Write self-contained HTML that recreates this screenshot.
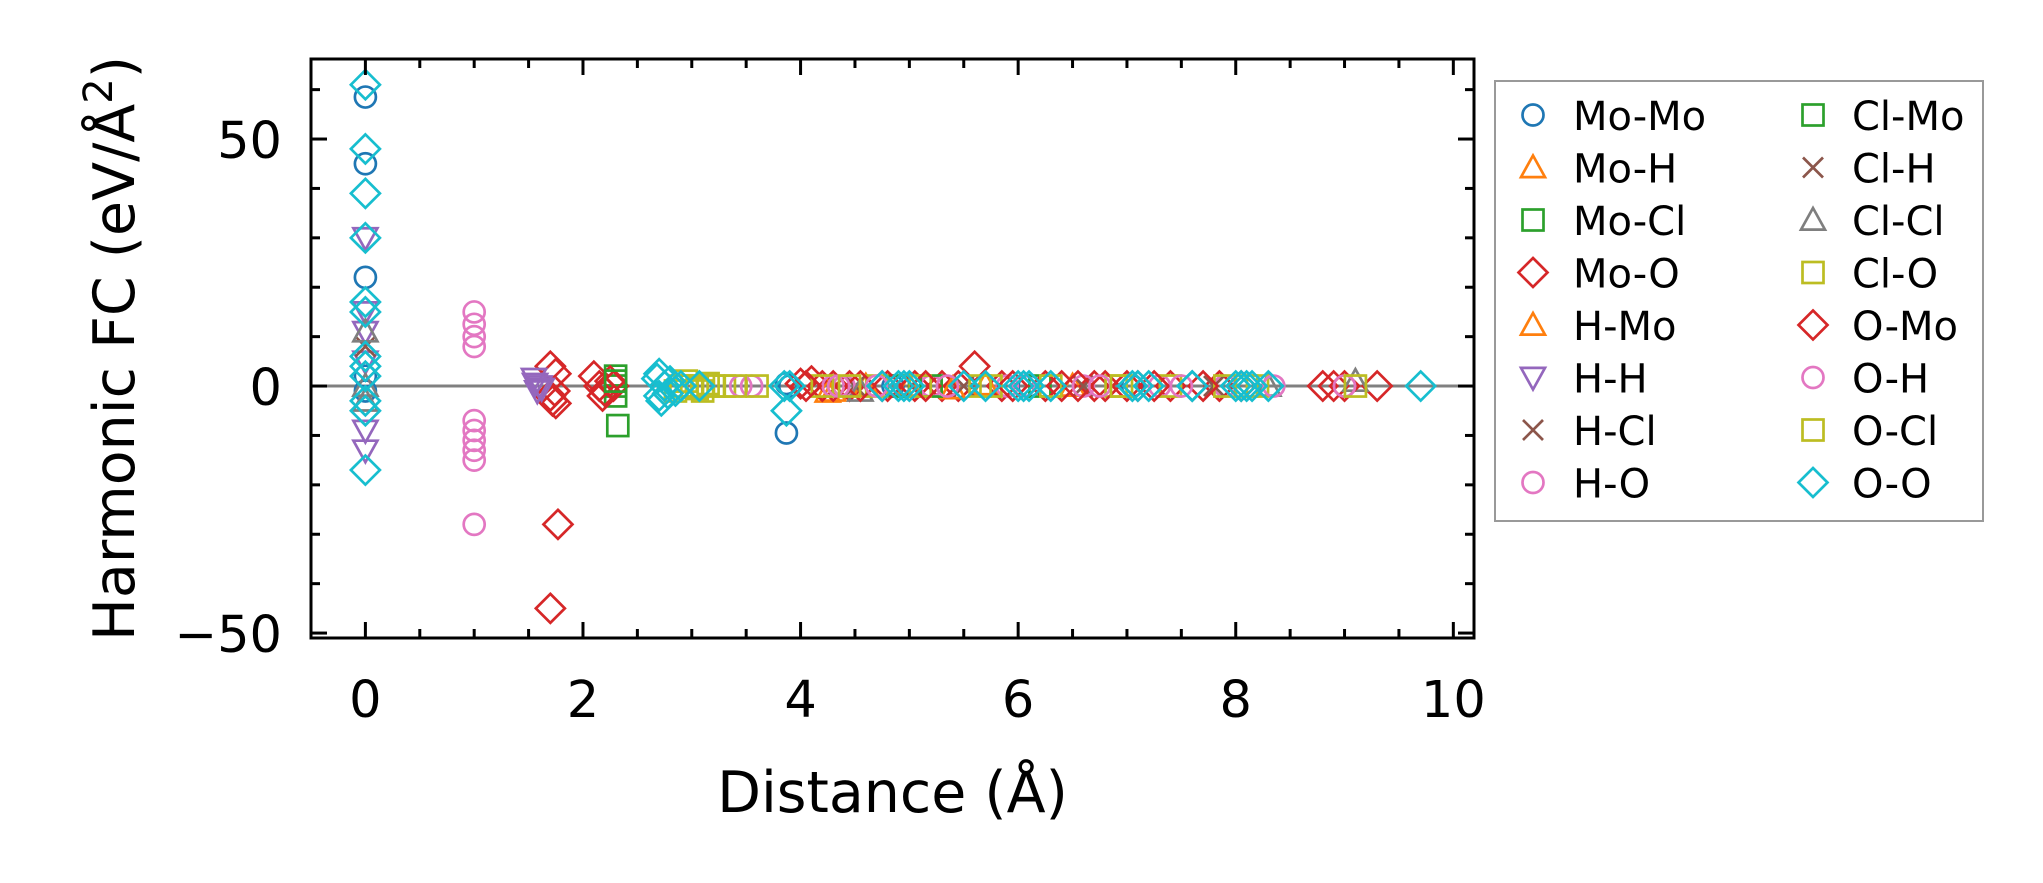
<!DOCTYPE html>
<html><head><meta charset="utf-8"><style>
html,body{margin:0;padding:0;background:#fff;width:2043px;height:883px;overflow:hidden}
svg text{font-family:"DejaVu Sans","Liberation Sans",sans-serif}
</style></head><body>
<svg id="chart" width="2043" height="883" xmlns="http://www.w3.org/2000/svg">
<g id="plot"></g>
<g id="axes"></g>
<g id="legend"></g>
</svg>
<script>
const xTicks=[0,2,4,6,8,10];
const yTicks=[-50,0,50];
const seriesNames=["Mo-Mo","Mo-H","Mo-Cl","Mo-O","H-Mo","H-H","H-Cl","H-O","Cl-Mo","Cl-H","Cl-Cl","Cl-O","O-Mo","O-H","O-Cl","O-O"];
const seriesColors=["#1f77b4","#ff7f0e","#2ca02c","#d62728","#ff7f0e","#9467bd","#8c564b","#e377c2","#2ca02c","#8c564b","#7f7f7f","#bcbd22","#d62728","#e377c2","#bcbd22","#17becf"];
const seriesMarkers=["o","^","s","D","^","v","x","o","s","x","^","s","D","o","s","D"];
const moMoX=[0,0,0,0,0,3.87,3.87,3.9,4.85,6.1,7.05];
const moMoY=[58.5,45,22,2,-1,-9.5,0.5,0,0,0,0];
const moHX=[4.3,5.0,5.7,6.5,4.25];
const moHY=[-1,0,0.3,0,-1.2];
const moClX=[2.3,2.3,2.3,4.9,6.2];
const moClY=[2,0,-2,0,0];
const moOX=[1.7,1.75,1.7,1.75,1.77,1.7,1.72,1.74,2.1,2.15,2.2,2.28,2.25,2.18,4.1,4.3,4.8,5.3,5.6,6.4,7.1,7.6,8.9,9.3,4.0,4.2,4.45,4.75,5.05,5.45,5.85,6.25,6.7,7.0,7.4,7.85];
const moOY=[4,2.5,-2,-3.5,-28,-45,-3,-1,2,0,-1,0,1,-2,1,0,0,0,4,0,0,0,0,0,0.5,0,0,0,0,0,0,0,0,0,0,0];
const hMoX=[4.6,5.4];
const hMoY=[0,-0.5];
const hHX=[0,0,0,0,0,0,1.55,1.6,1.58,1.56,1.62];
const hHY=[30,15,11,5,-9,-13,1.5,0,-1,0.5,-0.5];
const hClX=[0,4.5,6.6];
const hClY=[8,0,0];
const hOX=[1,1,1,1,1,1,1,1,1,1,3.55,4.4,5.9,7.3,4.3,5.2,6.6,7.9];
const hOY=[15,12.5,10,8,-7,-9,-11,-13,-15,-28,0,0,0,0,0,0,0,0];
const clMoX=[2.32,5.2,2.3];
const clMoY=[-8,0,1];
const clHX=[5.5,7.8];
const clHY=[0,0];
const clClX=[0,0,0,4.55,9.1,8.3];
const clClY=[11,0,-3,-1,1,0];
const clOX=[2.9,3.0,3.1,3.3,3.6,4.2,4.7,5.1,5.75,6.3,6.9,7.4,7.9,8.2,2.95,3.05,3.15,3.2,2.85];
const clOY=[0,0,-1,0,0,0,0,0,0,0,0,0,0,0,1,-0.5,0.5,0,-1];
const oMoX=[4.05,4.55,5.15,5.95,6.55,6.8,7.25,7.7,8.05,8.8,9.0];
const oMoY=[0,0,0,0,0,0,0,0,0,0,0];
const oHX=[3.45,4.35,4.7,5.35,6.05,6.75,7.5,8.35,9.0];
const oHY=[0,0,0,0,0,0,0,0,0];
const oClX=[3.05,3.4,4.45,5.65,6.95,8.1,9.1];
const oClY=[0,0,0,0,0,0,0];
const oOX=[0,0,0,0,0,0,0,0,0,0,0,0,2.7,2.7,2.75,2.8,2.85,3.07,2.72,2.78,2.68,2.9,3.85,3.87,3.9,4.9,5.0,5.5,5.7,6.05,6.1,6.3,7.05,7.2,7.6,8.0,8.05,8.15,8.3,9.7,4.75,4.95,6.0,7.1,7.6,8.1];
const oOY=[61,48,39,30,17,15,6,4,-3,-5,-17,2,2.5,-2,0,1,-1,0,-3,-1.5,1.5,0,0,-5,0,0,0,0,0,0,0,0,0,0,0,0,0,0,0,0,0,0,0,0,0,0];
const allX=[moMoX,moHX,moClX,moOX,hMoX,hHX,hClX,hOX,clMoX,clHX,clClX,clOX,oMoX,oHX,oClX,oOX];
const allY=[moMoY,moHY,moClY,moOY,hMoY,hHY,hClY,hOY,clMoY,clHY,clClY,clOY,oMoY,oHY,oClY,oOY];

const L=311,R=1474,T=59,B=638;
const xMin=-0.5,xMax=10.19,yMin=-51.0,yMax=66.2;
const sx=v=>L+(v-xMin)/(xMax-xMin)*(R-L);
const sy=v=>B-(v-yMin)/(yMax-yMin)*(B-T);
const NS="http://www.w3.org/2000/svg";
function mk(tag,attrs,parent){const e=document.createElementNS(NS,tag);for(const k in attrs)e.setAttribute(k,attrs[k]);parent.appendChild(e);return e;}

function marker(parent,type,cx,cy,color,s){
  const st={fill:"none",stroke:color,"stroke-width":2.7};
  let e;
  if(type==="o"){e=mk("circle",Object.assign({cx:cx,cy:cy,r:10.5*s},st),parent);}
  else if(type==="s"){e=mk("rect",Object.assign({x:cx-10.5*s,y:cy-10.5*s,width:21*s,height:21*s},st),parent);}
  else if(type==="D"){const r=14.5*s;e=mk("polygon",Object.assign({points:`${cx},${cy-r} ${cx+r},${cy} ${cx},${cy+r} ${cx-r},${cy}`},st),parent);}
  else if(type==="^"){const r=12*s;e=mk("polygon",Object.assign({points:`${cx},${cy-r} ${cx+r},${cy+r*0.8} ${cx-r},${cy+r*0.8}`},st),parent);}
  else if(type==="v"){const r=12*s;e=mk("polygon",Object.assign({points:`${cx},${cy+r} ${cx+r},${cy-r*0.8} ${cx-r},${cy-r*0.8}`},st),parent);}
  else {const r=10*s;e=mk("path",Object.assign({d:`M${cx-r},${cy-r}L${cx+r},${cy+r}M${cx+r},${cy-r}L${cx-r},${cy+r}`},st),parent);}
  return e;
}

const plot=document.getElementById("plot");
const zl=mk("line",{x1:L,x2:R,y1:sy(0),y2:sy(0),stroke:"#808080","stroke-width":3},plot);


seriesNames.forEach((n,i)=>{
  const g=mk("g",{},plot);
  
  
  allX[i].forEach((x,j)=>{
    const m=marker(g,seriesMarkers[i],sx(x),sy(allY[i][j]),seriesColors[i],1);
    
    
  });
});

const ax=document.getElementById("axes");
const frame=mk("rect",{x:L,y:T,width:R-L,height:B-T,fill:"none",stroke:"#000","stroke-width":3},ax);


for(let v=0;v<=10.01;v+=0.5){
  const x=sx(v);const maj=Math.abs(v/2-Math.round(v/2))<1e-6;const len=maj?16:9;
  mk("line",{x1:x,x2:x,y1:B,y2:B-len,stroke:"#000","stroke-width":3},ax);
  mk("line",{x1:x,x2:x,y1:T,y2:T+len,stroke:"#000","stroke-width":3},ax);
}
for(let v=-50;v<=60;v+=10){
  const y=sy(v);const maj=v%50===0;const len=maj?16:9;
  mk("line",{x1:L,x2:L+len,y1:y,y2:y,stroke:"#000","stroke-width":3},ax);
  mk("line",{x1:R,x2:R-len,y1:y,y2:y,stroke:"#000","stroke-width":3},ax);
}
xTicks.forEach(v=>{
  const t=mk("text",{x:sx(v),y:717,"font-size":51,"text-anchor":"middle"},ax);t.textContent=v;
  
  
});
yTicks.forEach(v=>{
  const t=mk("text",{x:282,y:sy(v)+19,"font-size":51,"text-anchor":"end"},ax);t.textContent=v<0?"\u2212"+Math.abs(v):v;
  
  
});
const xl=mk("text",{x:(L+R)/2,y:812,"font-size":57,"text-anchor":"middle"},ax);xl.textContent="Distance (Å)";


const yl=mk("text",{x:0,y:0,"font-size":57,"text-anchor":"middle",transform:`translate(134,${(T+B)/2}) rotate(-90)`},ax);
yl.innerHTML='Harmonic FC (eV/Å<tspan dy="-22" font-size="40">2</tspan><tspan dy="22">)</tspan>';



const lg=document.getElementById("legend");
const box=mk("rect",{x:1495,y:81,width:488,height:440,fill:"#fff",stroke:"#999","stroke-width":2},lg);


seriesNames.forEach((n,i)=>{
  const col=i<8?0:1,row=i%8;
  const mx=col?1813:1533,tx=col?1852:1573,y=115+row*52.5;
  const g=mk("g",{},lg);
  
  
  marker(g,seriesMarkers[i],mx,y,seriesColors[i],1);
  const t=mk("text",{x:tx,y:y+15,"font-size":40},g);t.textContent=n;
});
</script>
</body></html>
